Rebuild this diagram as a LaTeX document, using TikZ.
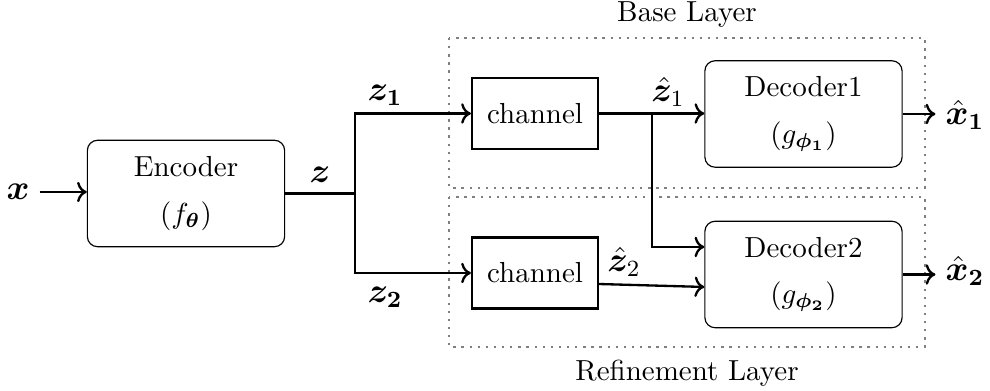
\documentclass[tikz,border=0pt]{standalone}
\usepackage{amsmath,bm}
\usetikzlibrary{arrows.meta}
\begin{document}
\begin{tikzpicture}[x=0.3448pt,y=-0.3448pt,
  rbox/.style={draw, rounded corners=3.5pt, minimum width=68pt, minimum height=36.7pt, align=center, inner sep=0pt},
  chbox/.style={draw, thick, minimum width=43.4pt, minimum height=24.5pt, inner sep=0pt},
  conn/.style={thick},
  arr/.style={thick,->},
  layer/.style={draw=gray, dotted, thick},
  lbl/.style={font=\large}]
\useasboundingbox (0,0) rectangle (990,391);
% layers
\draw[layer] (449,38) rectangle (925,188);
\draw[layer] (449,197) rectangle (925,347);
\node (baselbl) at (687,15) {Base Layer};
\node (reflbl) at (687,373) {Refinement Layer};
% nodes
\node[lbl] (xin) at (18,192) {$\bm{x}$};
\node[rbox] (enc) at (186,193.5) {Encoder\\[4pt]$(f_{\bm{\theta}})$};
\node[chbox] (ch1) at (535,113.5) {channel};
\node[chbox] (ch2) at (535,273) {channel};
\node[rbox] (dec1) at (803.5,114) {Decoder1\\[4pt]$(g_{\bm{\phi_1}})$};
\node[rbox] (dec2) at (803.5,274.5) {Decoder2\\[4pt]$(g_{\bm{\phi_2}})$};
\node[lbl] (xo1) at (965,115) {$\hat{\bm{x}}_{\bm{1}}$};
\node[lbl] (xo2) at (965,271) {$\hat{\bm{x}}_{\bm{2}}$};
% labels
\node[lbl] (zl) at (320,175) {$\bm{z}$};
\node[lbl] (z1l) at (385,95) {$\bm{z_1}$};
\node[lbl] (z2l) at (385,297) {$\bm{z_2}$};
\node[lbl] (zh1l) at (668,92) {$\hat{\bm{z}}_1$};
\node[lbl] (zh2l) at (624,262) {$\hat{\bm{z}}_2$};
% connectors
\coordinate (sp) at (355,193.5);
\coordinate (br) at (652,113.5);
\draw[arr] (xin.east) -- (enc.west |- xin.east);
\draw[conn] (enc.east) -- (sp);
\draw[arr] (sp) |- (ch1.west);
\draw[arr] (sp) |- (ch2.west);
\draw[arr] (ch1.east) -- (dec1.west |- ch1.east);
\draw[arr] (br) |- ([yshift=9.5pt]dec2.west);
\draw[arr] ([yshift=-3.8pt]ch2.east) -- ([yshift=-4.3pt]dec2.west);
\draw[arr] (dec1.east) -- (xo1.west |- dec1.east);
\draw[arr] (dec2.east) -- (xo2.west |- dec2.east);
\end{tikzpicture}
\end{document}
